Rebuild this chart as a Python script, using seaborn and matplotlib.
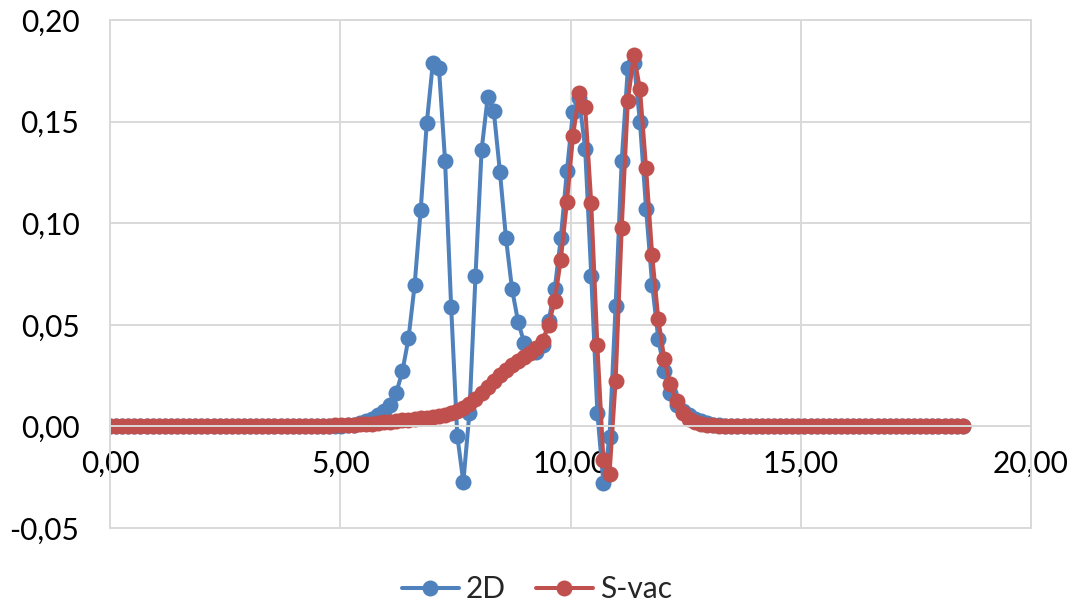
import matplotlib
matplotlib.use("Agg")
import matplotlib.pyplot as plt
import seaborn as sns
import pandas as pd
from matplotlib.ticker import FuncFormatter
from matplotlib.lines import Line2D

# ---------------- data ----------------
x_values = [
    0.000, 0.132, 0.265, 0.397, 0.529, 0.661, 0.794, 0.926, 1.058, 1.191,
    1.323, 1.455, 1.587, 1.720, 1.852, 1.984, 2.117, 2.249, 2.381, 2.514,
    2.646, 2.778, 2.910, 3.043, 3.175, 3.307, 3.440, 3.572, 3.704, 3.836,
    3.969, 4.101, 4.233, 4.366, 4.498, 4.630, 4.762, 4.895, 5.027, 5.159,
    5.292, 5.424, 5.556, 5.688, 5.821, 5.953, 6.085, 6.218, 6.350, 6.482,
    6.615, 6.747, 6.879, 7.011, 7.144, 7.276, 7.408, 7.541, 7.673, 7.805,
    7.937, 8.070, 8.202, 8.334, 8.467, 8.599, 8.731, 8.863, 8.996, 9.128,
    9.260, 9.393, 9.525, 9.657, 9.789, 9.922, 10.054, 10.186, 10.319, 10.451,
    10.583, 10.715, 10.848, 10.980, 11.112, 11.245, 11.377, 11.509, 11.642, 11.774,
    11.906, 12.038, 12.171, 12.303, 12.435, 12.568, 12.700, 12.832, 12.964, 13.097,
    13.229, 13.361, 13.494, 13.626, 13.758, 13.890, 14.023, 14.155, 14.287, 14.420,
    14.552, 14.684, 14.816, 14.949, 15.081, 15.213, 15.346, 15.478, 15.610, 15.742,
    15.875, 16.007, 16.139, 16.272, 16.404, 16.536, 16.668, 16.801, 16.933, 17.065,
    17.198, 17.330, 17.462, 17.594, 17.727, 17.859, 17.991, 18.124, 18.256, 18.388,
    18.521,
]

y_2d = [0.0] * 36 + [
    0.0001, 0.0002, 0.0004, 0.0006, 0.0009, 0.0015, 0.0025, 0.0038, 0.0055, 0.0075,
    0.0103, 0.0166, 0.0272, 0.0433, 0.0695, 0.1066, 0.1493, 0.1788, 0.1762, 0.1307,
    0.0590, -0.0045, -0.0274, 0.0067, 0.0740, 0.1362, 0.1620, 0.1552, 0.1254, 0.0926,
    0.0675, 0.0514, 0.0410, 0.0370, 0.0368, 0.0400, 0.0520, 0.0675, 0.0925, 0.1258,
    0.1548, 0.1615, 0.1365, 0.0740, 0.0067, -0.0277, -0.0050, 0.0593, 0.1307, 0.1762,
    0.1790, 0.1496, 0.1069, 0.0696, 0.0432, 0.0272, 0.0166, 0.0103, 0.0075, 0.0055,
    0.0038, 0.0025, 0.0015, 0.0009, 0.0006, 0.0004, 0.0002, 0.0001,
] + [0.0] * 37

y_svac = [0.0] * 30 + [
    0.0001, 0.0001, 0.0002, 0.0002, 0.0003, 0.0003, 0.0004, 0.0005, 0.0006, 0.0007,
    0.0008, 0.0010, 0.0012, 0.0014, 0.0017, 0.0020, 0.0023, 0.0026, 0.0030, 0.0033,
    0.0036, 0.0040, 0.0043, 0.0047, 0.0052, 0.0058, 0.0065, 0.0078, 0.0092, 0.0110,
    0.0135, 0.0163, 0.0194, 0.0225, 0.0253, 0.0280, 0.0303, 0.0323, 0.0342, 0.0360,
    0.0385, 0.0420, 0.0500, 0.0617, 0.0819, 0.1102, 0.1427, 0.1639, 0.1573, 0.1097,
    0.0400, -0.0166, -0.0232, 0.0223, 0.0974, 0.1602, 0.1828, 0.1660, 0.1270, 0.0842,
    0.0531, 0.0330, 0.0207, 0.0125, 0.0067, 0.0038, 0.0022, 0.0013, 0.0008, 0.0005,
    0.0003, 0.0002, 0.0001,
] + [0.0] * 38

series_names = ["2D", "S-vac"]
x_ticks = [0, 5, 10, 15, 20]
y_ticks = [-0.05, 0.00, 0.05, 0.10, 0.15, 0.20]

# ---------------- style ----------------
BLUE = "#4F81BD"
RED = "#C0504D"
GRID = "#D9D9D9"
MS = 11.5
LW = 2.9

sns.set_theme(style="white")
plt.rcParams["font.family"] = ["Lato", "DejaVu Sans"]

n = len(x_values)
df = pd.DataFrame({
    "x": x_values + x_values,
    "y": y_2d + y_svac,
    "series": [series_names[0]] * n + [series_names[1]] * n,
})

fig = plt.figure(figsize=(10.74, 6.03), dpi=100)
ax = fig.add_axes([110 / 1074, 1 - 528 / 603, (1031 - 110) / 1074, (528 - 20) / 603])

sns.lineplot(
    data=df, x="x", y="y", hue="series", hue_order=series_names,
    palette={series_names[0]: BLUE, series_names[1]: RED},
    marker="o", markersize=MS, markeredgewidth=0, linewidth=LW,
    sort=False, estimator=None, ax=ax, legend=False,
)

ax.set_xlim(0, 20)
ax.set_ylim(-0.05, 0.20)
ax.set_xticks(x_ticks)
ax.set_yticks(y_ticks)


def comma_fmt(v, pos):
    if abs(v) < 1e-9:
        v = 0.0
    return f"{v:.2f}".replace(".", ",")


ax.xaxis.set_major_formatter(FuncFormatter(comma_fmt))
ax.yaxis.set_major_formatter(FuncFormatter(comma_fmt))

ax.grid(True, color=GRID, linewidth=1.4)
ax.set_axisbelow(True)
for side in ["left", "right", "top"]:
    ax.spines[side].set_color(GRID)
    ax.spines[side].set_linewidth(1.4)
ax.spines["bottom"].set_position(("data", 0))
ax.spines["bottom"].set_color(GRID)
ax.spines["bottom"].set_linewidth(1.4)
ax.axhline(-0.05, color=GRID, linewidth=1.4, clip_on=False, zorder=0)

ax.tick_params(axis="both", length=0, labelsize=21.5, labelcolor="black")
ax.tick_params(axis="x", pad=17)
ax.tick_params(axis="y", pad=22)
ax.set_xlabel("")
ax.set_ylabel("")

handles = [
    Line2D([], [], color=BLUE, marker="o", markersize=MS, markeredgewidth=0, linewidth=LW),
    Line2D([], [], color=RED, marker="o", markersize=MS, markeredgewidth=0, linewidth=LW),
]
fig.legend(handles, series_names, loc="center", bbox_to_anchor=(0.5, 14 / 603), ncol=2,
           frameon=False, fontsize=21.5, handlelength=1.9, handletextpad=0.25,
           columnspacing=1.0)

fig.savefig("out.png", dpi=100)
